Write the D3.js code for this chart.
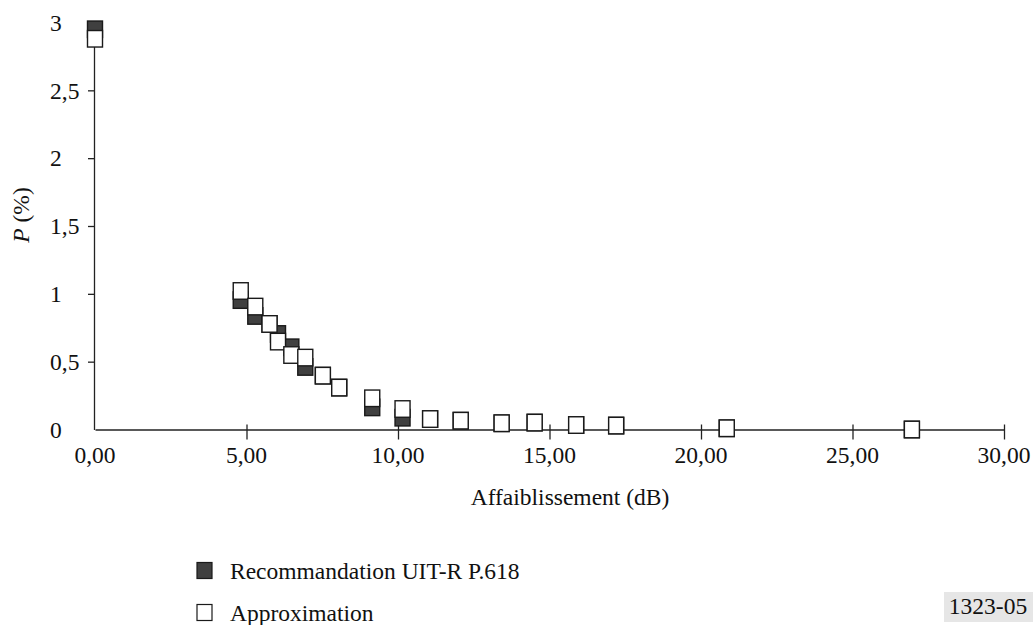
<!DOCTYPE html>
<html>
<head>
<meta charset="utf-8">
<script src="https://cdn.jsdelivr.net/npm/d3@7"></script>
<style>
  html, body { margin: 0; padding: 0; background: #fff; }
  svg text { font-family: "Liberation Serif", "Times New Roman", serif; fill: #111; }
</style>
</head>
<body>
<div id="chart"></div>
<script>
// attenuation (dB) for each point
const attenuation = [0, 4.81, 5.29, 5.76, 6.04, 6.48, 6.94, 7.52, 8.06, 9.15, 10.15, 11.06, 12.07, 13.42, 14.51, 15.88, 17.2, 20.85, 26.96];
// P (%) - Recommandation UIT-R P.618
const recP618 = [2.95, 0.954, 0.837, 0.778, 0.704, 0.606, 0.461, 0.397, 0.309, 0.163, 0.087, 0.077, 0.065, 0.046, 0.051, 0.033, 0.029, 0.009, 0];
// P (%) - Approximation
const approx = [2.88, 1.021, 0.906, 0.778, 0.648, 0.549, 0.53, 0.397, 0.309, 0.23, 0.151, 0.077, 0.065, 0.046, 0.051, 0.033, 0.029, 0.009, 0];

const xTicks = [0, 5, 10, 15, 20, 25, 30];
const yTicks = [0, 0.5, 1, 1.5, 2, 2.5, 3];
const legendLabels = ["Recommandation UIT-R P.618", "Approximation"];

const width = 1033, height = 625;
const fontSize = 23.5;
const markW = 15, markH = 16.5;

const loc = d3.formatLocale({ decimal: ",", thousands: " ", grouping: [3], currency: ["", ""] });
const fmtX = loc.format(".2f");
const fmtY = v => loc.format("~g")(v);

const svg = d3.select("#chart").append("svg")
  .attr("width", width)
  .attr("height", height);

svg.append("rect").attr("width", width).attr("height", height).attr("fill", "#fff");

const x = d3.scaleLinear().domain([0, 30]).range([95, 1004]);
const y = d3.scaleLinear().domain([0, 3]).range([429.5, 22.5]);

// x axis: ticks cross the line
const xAxis = svg.append("g")
  .attr("transform", `translate(0,${y(0)})`)
  .call(d3.axisBottom(x).tickValues(xTicks.slice(1)).tickSize(10).tickSizeOuter(0).tickFormat(""));
xAxis.select(".domain").attr("stroke", "#222").attr("stroke-width", 1.3);
xAxis.selectAll(".tick line").attr("y1", -5).attr("stroke", "#222").attr("stroke-width", 1.3);

svg.append("g").selectAll("text")
  .data(xTicks)
  .join("text")
  .attr("x", d => x(d))
  .attr("y", 463)
  .attr("text-anchor", "middle")
  .style("font-size", fontSize + "px")
  .text(d => fmtX(d));

// y axis
const yAxis = svg.append("g")
  .attr("transform", `translate(${x(0) - 1},0)`)
  .call(d3.axisLeft(y).tickValues(yTicks.slice(1)).tickSize(6).tickSizeOuter(0).tickFormat(""));
yAxis.select(".domain").attr("stroke", "#222").attr("stroke-width", 1.3);
yAxis.selectAll(".tick line").attr("stroke", "#222").attr("stroke-width", 1.3);

svg.append("g").selectAll("text")
  .data(yTicks)
  .join("text")
  .attr("x", 50)
  .attr("y", d => y(d))
  .attr("dy", "0.35em")
  .style("font-size", fontSize + "px")
  .text(d => fmtY(d));

// axis titles
const yTitle = svg.append("text")
  .attr("transform", "translate(29,215) rotate(-90)")
  .attr("text-anchor", "middle")
  .style("font-size", fontSize + "px");
yTitle.append("tspan").style("font-style", "italic").text("P");
yTitle.append("tspan").text(" (%)");

svg.append("text")
  .attr("x", 570)
  .attr("y", 505)
  .attr("text-anchor", "middle")
  .style("font-size", fontSize + "px")
  .text("Affaiblissement (dB)");

// markers: rec first (dark), approximation on top (white)
const series = [
  { values: recP618, fill: "#404040" },
  { values: approx, fill: "#fff" }
];

series.forEach(s => {
  svg.append("g").selectAll("rect")
    .data(attenuation.map((a, i) => [a, s.values[i]]))
    .join("rect")
    .attr("x", d => x(d[0]) - markW / 2)
    .attr("y", d => y(d[1]) - markH / 2)
    .attr("width", markW)
    .attr("height", markH)
    .attr("fill", s.fill)
    .attr("stroke", "#1a1a1a")
    .attr("stroke-width", 1.4);
});

// legend
const legend = svg.append("g");
legendLabels.forEach((lbl, i) => {
  const ly = 571 + i * 42;
  legend.append("rect")
    .attr("x", 197).attr("y", ly - 8.5)
    .attr("width", 15).attr("height", 16)
    .attr("fill", series[i].fill)
    .attr("stroke", "#1a1a1a")
    .attr("stroke-width", 1.2);
  legend.append("text")
    .attr("x", 230).attr("y", ly)
    .attr("dy", "0.35em")
    .style("font-size", fontSize + "px")
    .text(lbl);
});

// figure number
svg.append("rect")
  .attr("x", 944).attr("y", 592)
  .attr("width", 89).attr("height", 30)
  .attr("fill", "#e6e6e6");
svg.append("text")
  .attr("x", 988).attr("y", 606)
  .attr("dy", "0.35em")
  .attr("text-anchor", "middle")
  .style("font-size", fontSize + "px")
  .text("1323-05");
</script>
</body>
</html>
